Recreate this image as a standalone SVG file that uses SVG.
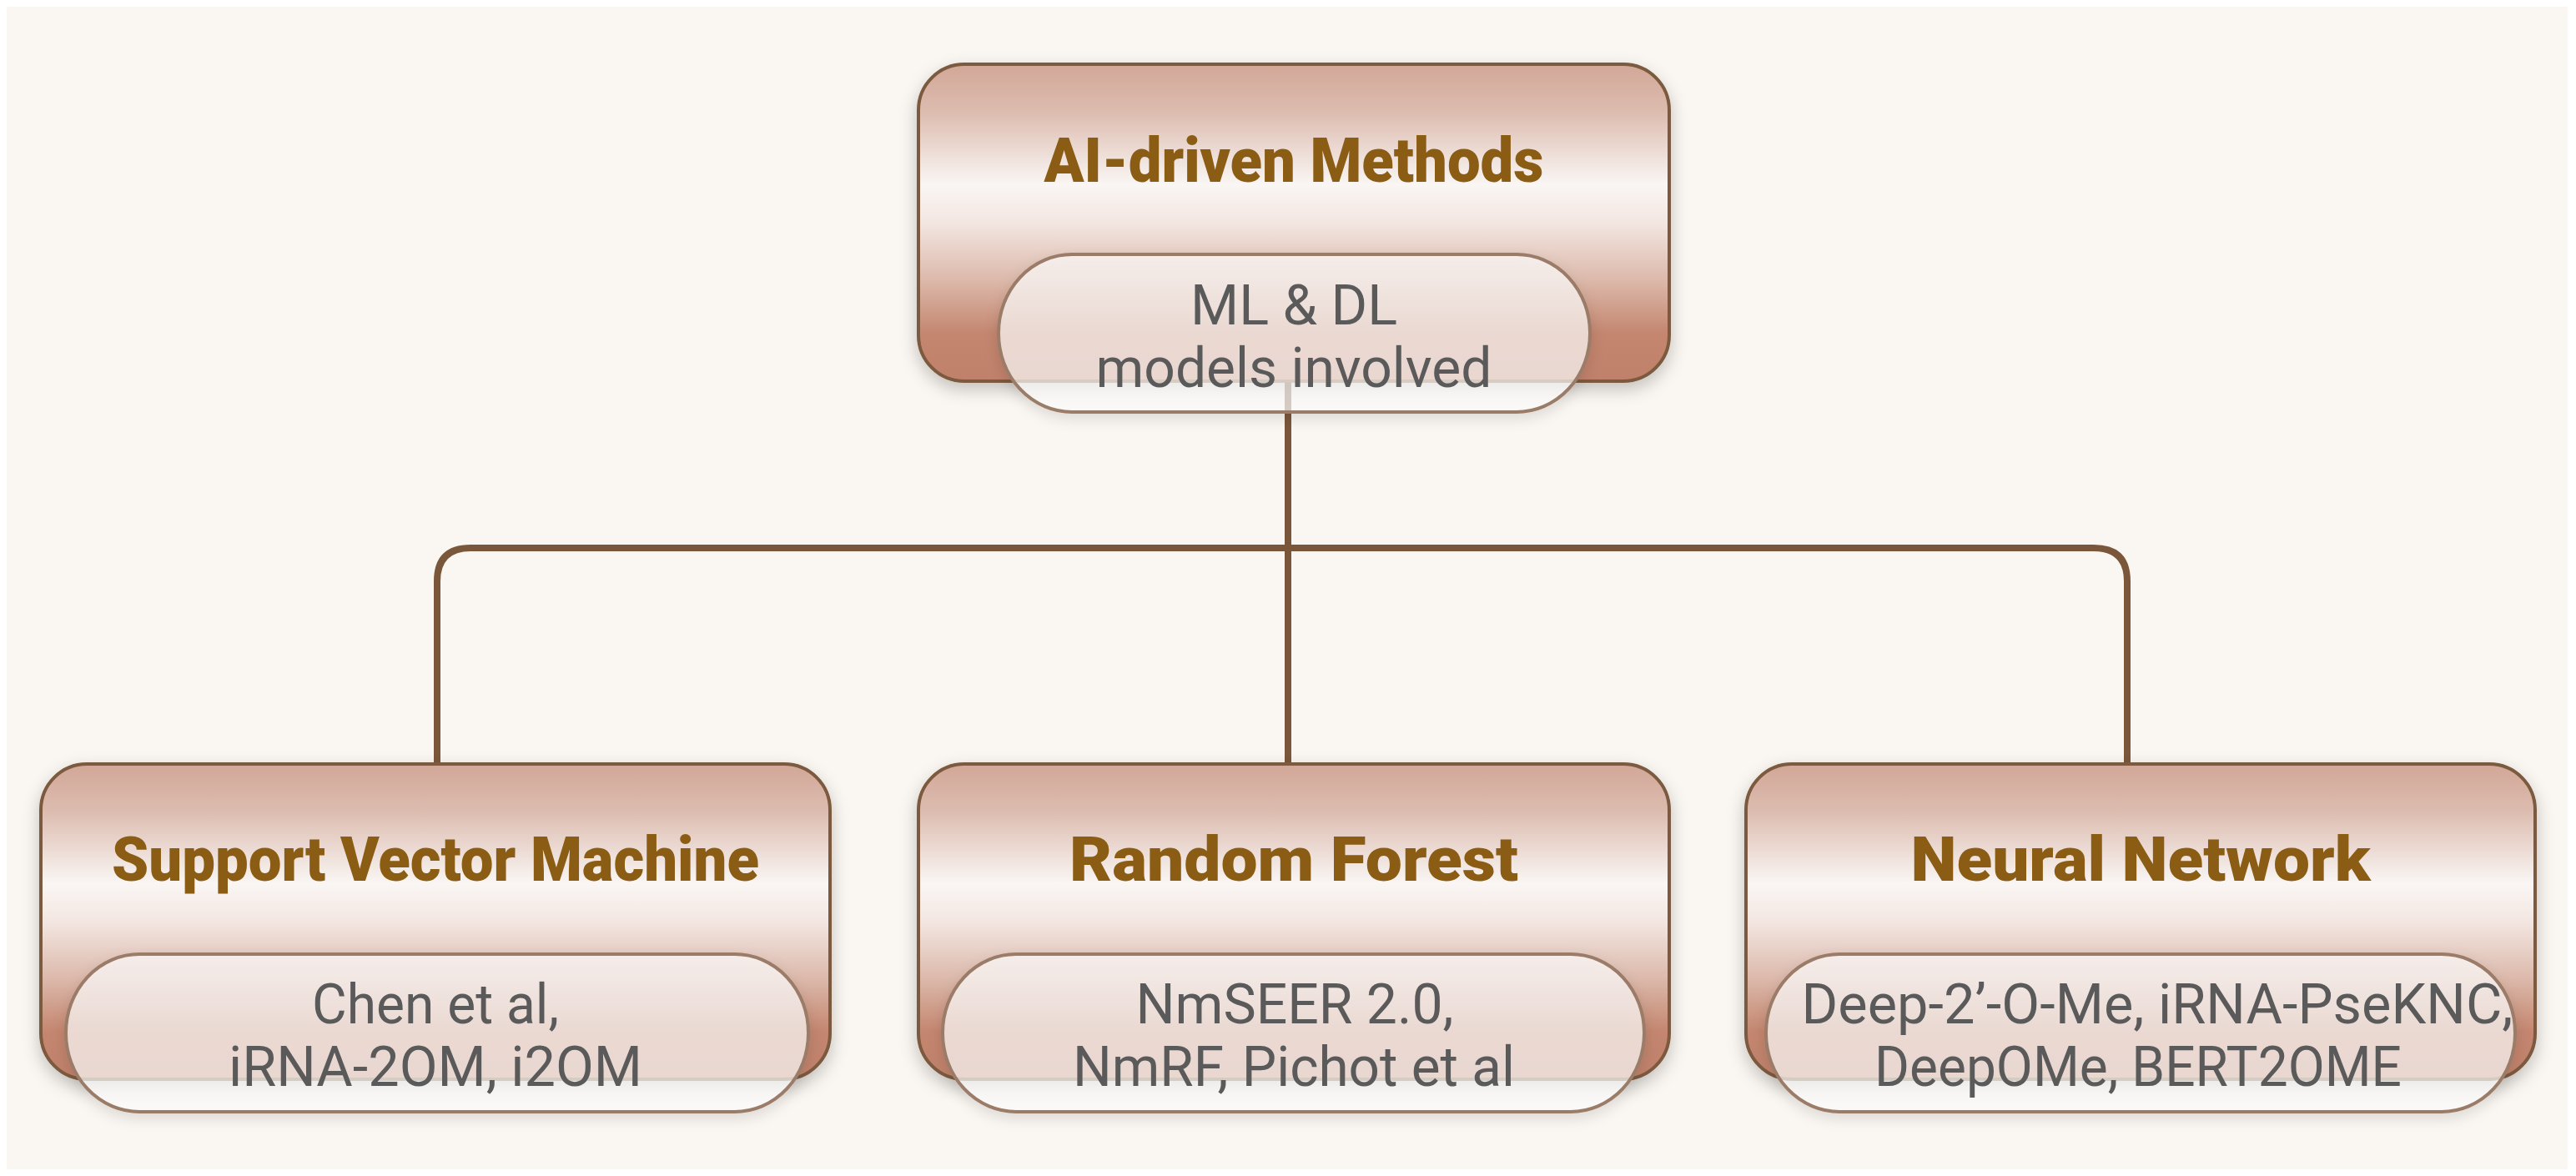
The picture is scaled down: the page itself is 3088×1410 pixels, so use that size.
<svg xmlns="http://www.w3.org/2000/svg" width="3088" height="1410" viewBox="0 0 3088 1410">
<defs>
<linearGradient id="boxGrad" x1="0" y1="0" x2="0" y2="1">
<stop offset="0" stop-color="#d2a797"/>
<stop offset="0.15" stop-color="#dcbcaf"/>
<stop offset="0.38" stop-color="#faf6f4"/>
<stop offset="0.5" stop-color="#f3e6e1"/>
<stop offset="0.68" stop-color="#dcb9ab"/>
<stop offset="0.85" stop-color="#c4866f"/>
<stop offset="1" stop-color="#c0816b"/>
</linearGradient>
<filter id="shadow" x="-10%" y="-10%" width="120%" height="130%">
<feDropShadow dx="0" dy="8" stdDeviation="10" flood-color="#000" flood-opacity="0.22"/>
</filter>
<filter id="pshadow" x="-10%" y="-20%" width="120%" height="150%">
<feDropShadow dx="0" dy="6" stdDeviation="8" flood-color="#000" flood-opacity="0.15"/>
</filter>
</defs>
<style>
.box{fill:url(#boxGrad);stroke:#7b5a3f;stroke-width:4;filter:url(#shadow)}
.pill{fill:#ffffff;fill-opacity:0.68;stroke:#9a7b67;stroke-width:4;filter:url(#pshadow)}
.title{font-family:Roboto,"Liberation Sans",sans-serif;font-weight:900;font-size:74px;fill:#8a5c14;text-anchor:middle}
.sub{font-family:Roboto,"Liberation Sans",sans-serif;font-size:66px;fill:#5b5a5a;text-anchor:middle}
.conn{fill:none;stroke:#7a573b;stroke-width:8}
</style>
<rect x="0" y="0" width="3088" height="1410" fill="#ffffff"/>
<rect x="8" y="8" width="3070" height="1394" fill="#faf6f1"/>
<g id="connectors">
<path class="conn" d="M1544 457 V657"/>
<path class="conn" d="M524 916 V697 Q524 657 564 657 H2510 Q2550 657 2550 697 V916"/>
<path class="conn" d="M1544 657 V916"/>
</g>
<g id="node-ai">
<rect class="box" x="1101" y="77" width="900" height="380" rx="55"/>
<text class="title" x="1551" y="218" textLength="599" lengthAdjust="spacingAndGlyphs">AI-driven Methods</text>
<rect class="pill" x="1197" y="305" width="709" height="189" rx="88" ry="94"/>
<text class="sub" x="1551" y="389" textLength="248" lengthAdjust="spacingAndGlyphs">ML &amp; DL</text>
<text class="sub" x="1551" y="464" textLength="475" lengthAdjust="spacingAndGlyphs">models involved</text>
</g>
<g id="node-svm">
<rect class="box" x="49" y="916" width="946" height="378" rx="55"/>
<text class="title" x="522" y="1056" textLength="776" lengthAdjust="spacingAndGlyphs">Support Vector Machine</text>
<rect class="pill" x="79" y="1144" width="890" height="189" rx="88" ry="94"/>
<text class="sub" x="522" y="1227" textLength="296" lengthAdjust="spacingAndGlyphs">Chen et al,</text>
<text class="sub" x="522" y="1302" textLength="496" lengthAdjust="spacingAndGlyphs">iRNA-2OM, i2OM</text>
</g>
<g id="node-rf">
<rect class="box" x="1101" y="916" width="900" height="378" rx="55"/>
<text class="title" x="1551" y="1056" textLength="538" lengthAdjust="spacingAndGlyphs">Random Forest</text>
<rect class="pill" x="1130" y="1144" width="841" height="189" rx="88" ry="94"/>
<text class="sub" x="1552" y="1227" textLength="381" lengthAdjust="spacingAndGlyphs">NmSEER 2.0,</text>
<text class="sub" x="1551" y="1302" textLength="530" lengthAdjust="spacingAndGlyphs">NmRF, Pichot et al</text>
</g>
<g id="node-nn">
<rect class="box" x="2093" y="916" width="946" height="378" rx="55"/>
<text class="title" x="2566" y="1056" textLength="551" lengthAdjust="spacingAndGlyphs">Neural Network</text>
<rect class="pill" x="2117" y="1144" width="898" height="189" rx="88" ry="94"/>
<text class="sub" x="2586" y="1227" textLength="853" lengthAdjust="spacingAndGlyphs">Deep-2’-O-Me, iRNA-PseKNC,</text>
<text class="sub" x="2563" y="1302" textLength="632" lengthAdjust="spacingAndGlyphs">DeepOMe, BERT2OME</text>
</g>
</svg>
